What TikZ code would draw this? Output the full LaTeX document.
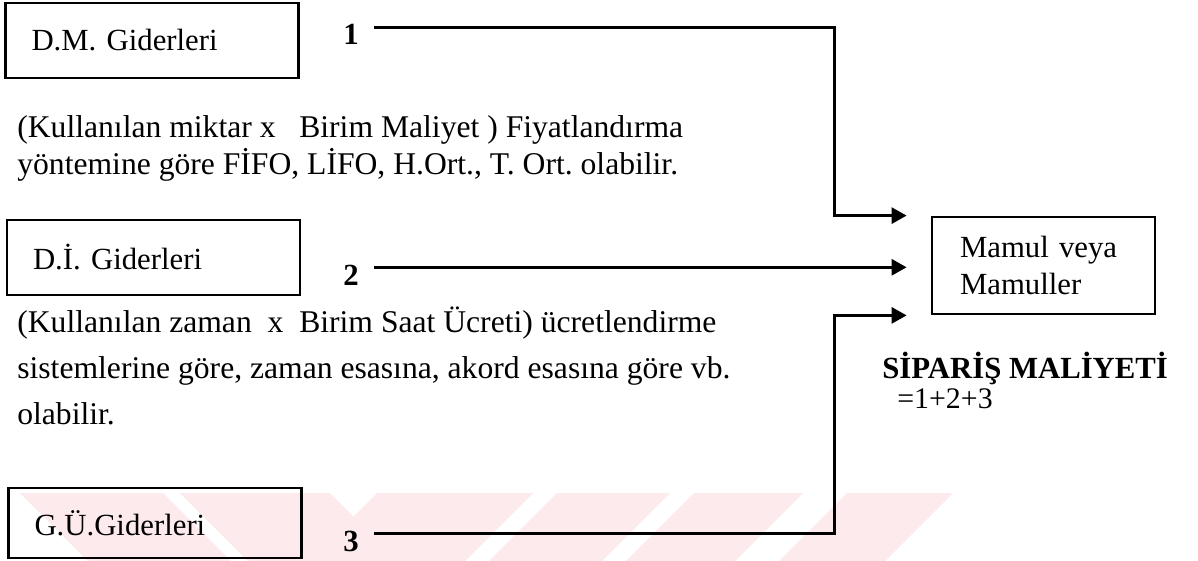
\documentclass[tikz,border=0pt]{standalone}
\usepackage{fontspec}
\setmainfont{Liberation Serif}
\usetikzlibrary{positioning,arrows.meta,calc}
\definecolor{filigran}{RGB}{253,234,236}
\frenchspacing

\begin{document}
\begin{tikzpicture}[
  x=0.02cm, y=-0.02cm,
  font=\fontsize{17.5}{21}\selectfont,
  >={Triangle[length=0.3cm,width=0.32cm]},
  gider/.style={draw, line width=1.6pt, minimum width=5.86cm, minimum height=1.5cm,
                text width=4.82cm, inner xsep=0.52cm, align=left},
  urun/.style={draw, line width=1.6pt, minimum width=4.46cm, minimum height=1.94cm,
               text width=3.34cm, inner xsep=0.56cm, align=left},
  num/.style={font=\fontsize{17.5}{21}\selectfont\bfseries, inner sep=0pt, anchor=base},
  satir/.style={anchor=base west, inner sep=0pt, font=\fontsize{18}{21}\selectfont},
  arr/.style={->, line width=1.6pt, shorten >=0.48cm},
]
\useasboundingbox (0,0) rectangle (1198,561);
\fill[white] (0,0) rectangle (1198,561);

% soluk filigran seritleri
\foreach \a/\b in {20/163, 180/330}
  \fill[filigran] (\a,493) -- (\b,493) -- (\b+68,561) -- (\a+68,561) -- cycle;
\foreach \a/\b in {377/533, 557/670, 694/803, 847/953}
  \fill[filigran] (\a,493) -- (\b,493) -- (\b-68,561) -- (\a-68,561) -- cycle;

% gider kutulari
\node[gider] (dm) at (152,40.5) {D.M. Giderleri};
\node[gider] (di) at (153.5,257.5) {D.İ. Giderleri};
\node[gider, minimum height=1.4cm] (gu) at (155,523) {G.Ü.Giderleri};

\node[num] (n1) at (351,45) {1};
\node[num] (n2) at (351,285) {2};
\node[num] (n3) at (351,551) {3};

% aciklamalar
\node[satir] (t1a) at (17,137) {(Kullanılan miktar x\ \ \ Birim Maliyet ) Fiyatlandırma};
\node[satir] (t1b) at (17,174) {yöntemine göre FİFO, LİFO, H.Ort., T. Ort. olabilir.};
\node[satir] (t2a) at (17,332) {(Kullanılan zaman\ \ x\ \ Birim Saat Ücreti) ücretlendirme};
\node[satir] (t2b) at (17,378) {sistemlerine göre, zaman esasına, akord esasına göre vb.};
\node[satir] (t2c) at (17,424) {olabilir.};

% mamul
\node[urun] (mamul) at (1043.5,265.5) {Mamul veya\\Mamuller};
\node[satir, font=\fontsize{17.5}{21}\selectfont\bfseries] (sip) at (882,378) {SİPARİŞ MALİYETİ};
\node[satir, font=\fontsize{17}{20}\selectfont] (top) at (897,408) {=1+2+3};

\coordinate (s1) at ([xshift=0.3cm,yshift=-0.06cm]n1.north east);
\coordinate (s2) at ([xshift=0.3cm,yshift=-0.06cm]n2.north east);
\coordinate (s3) at ([xshift=0.3cm,yshift=-0.06cm]n3.north east);

\draw[arr] (s1) -| ([xshift=-1.92cm]mamul.north west) -- (mamul.north west);
\draw[arr] (s2) -- (s2 -| mamul.west);
\draw[arr] (s3) -| ([xshift=-1.92cm]mamul.south west) -- (mamul.south west);
\end{tikzpicture}
\end{document}
